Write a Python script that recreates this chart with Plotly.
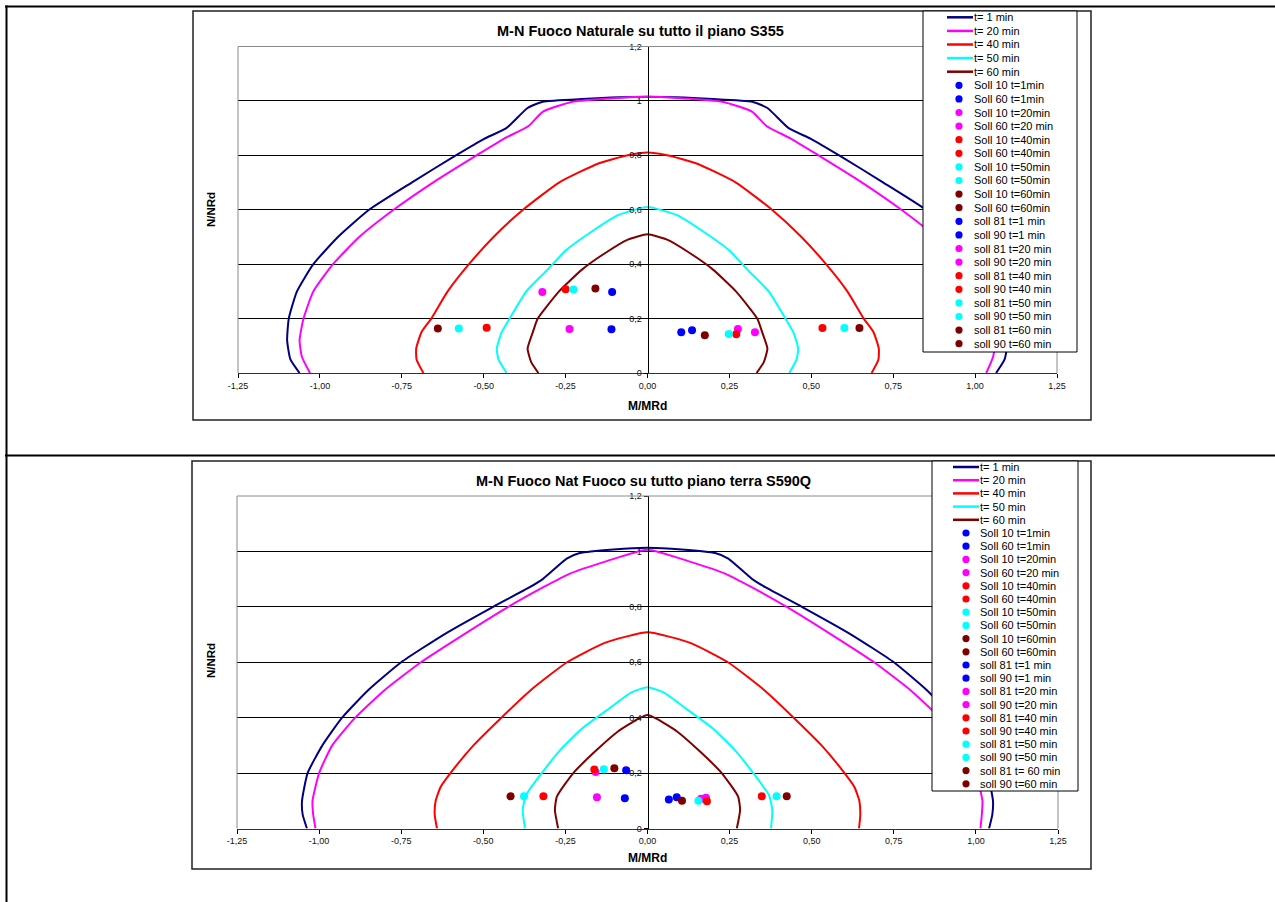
import plotly.graph_objects as go

# ---------------- data ----------------
X_TICKS = [-1.25, -1.0, -0.75, -0.5, -0.25, 0.0, 0.25, 0.5, 0.75, 1.0, 1.25]
X_TICK_LABELS = ["-1,25", "-1,00", "-0,75", "-0,50", "-0,25", "0,00", "0,25", "0,50", "0,75", "1,00", "1,25"]
Y_TICKS = [0, 0.2, 0.4, 0.6, 0.8, 1.0, 1.2]
Y_TICK_LABELS = ["0", "0,2", "0,4", "0,6", "0,8", "1", "1,2"]

CURVE_NAMES = ["t= 1 min", "t= 20 min", "t= 40 min", "t= 50 min", "t= 60 min"]
CURVE_COLORS = ["#000080", "#FF00FF", "#FF0000", "#00FFFF", "#800000"]

# ---- chart 1 : S355 ----
A_T1_M = [-1.062, -1.090, -1.100, -1.095, -1.070, -1.020, -0.945, -0.850, -0.720, -0.585, -0.500, -0.431, -0.366, -0.320, -0.200, 0.000,
          0.200, 0.320, 0.366, 0.431, 0.500, 0.585, 0.720, 0.850, 0.945, 1.020, 1.070, 1.095, 1.100, 1.090, 1.064]
A_T1_N = [0.0, 0.05, 0.12, 0.20, 0.30, 0.40, 0.50, 0.60, 0.70, 0.80, 0.86, 0.90, 0.974, 0.997, 1.007, 1.015,
          1.007, 0.997, 0.974, 0.90, 0.86, 0.80, 0.70, 0.60, 0.50, 0.40, 0.30, 0.20, 0.12, 0.05, 0.0]
A_T20_M = [-1.030, -1.055, -1.062, -1.050, -1.020, -0.960, -0.880, -0.775, -0.655, -0.522, -0.440, -0.363, -0.320, -0.229, -0.100, 0.000,
           0.100, 0.229, 0.320, 0.363, 0.440, 0.522, 0.655, 0.775, 0.880, 0.960, 1.020, 1.050, 1.062, 1.055, 1.034]
A_T20_N = [0.0, 0.06, 0.12, 0.20, 0.30, 0.40, 0.50, 0.60, 0.70, 0.80, 0.86, 0.908, 0.960, 0.997, 1.010, 1.015,
           1.010, 0.997, 0.960, 0.908, 0.86, 0.80, 0.70, 0.60, 0.50, 0.40, 0.30, 0.20, 0.12, 0.06, 0.0]
A_T40_M = [-0.684, -0.705, -0.706, -0.690, -0.660, -0.610, -0.545, -0.470, -0.380, -0.270, -0.150, -0.060, 0.000,
           0.060, 0.150, 0.270, 0.380, 0.470, 0.545, 0.610, 0.660, 0.690, 0.706, 0.705, 0.684]
A_T40_N = [0.0, 0.05, 0.09, 0.15, 0.20, 0.30, 0.40, 0.50, 0.60, 0.70, 0.77, 0.80, 0.81,
           0.80, 0.77, 0.70, 0.60, 0.50, 0.40, 0.30, 0.20, 0.15, 0.09, 0.05, 0.0]
A_T50_M = [-0.430, -0.455, -0.460, -0.445, -0.421, -0.370, -0.305, -0.250, -0.170, -0.090, 0.000,
           0.090, 0.170, 0.250, 0.305, 0.370, 0.421, 0.445, 0.460, 0.455, 0.433]
A_T50_N = [0.0, 0.05, 0.09, 0.15, 0.20, 0.30, 0.38, 0.45, 0.52, 0.58, 0.61,
           0.58, 0.52, 0.45, 0.38, 0.30, 0.20, 0.15, 0.09, 0.05, 0.0]
A_T60_M = [-0.333, -0.355, -0.366, -0.350, -0.335, -0.270, -0.200, -0.130, -0.060, 0.000,
           0.060, 0.130, 0.200, 0.270, 0.335, 0.350, 0.366, 0.355, 0.333]
A_T60_N = [0.0, 0.04, 0.09, 0.15, 0.20, 0.30, 0.38, 0.44, 0.49, 0.51,
           0.49, 0.44, 0.38, 0.30, 0.20, 0.15, 0.09, 0.04, 0.0]

# ---- chart 2 : S590Q ----
B_T1_M = [-1.037, -1.050, -1.052, -1.035, -0.990, -0.930, -0.850, -0.750, -0.620, -0.470, -0.360, -0.317, -0.246, -0.206, -0.104, 0.000,
          0.104, 0.206, 0.246, 0.317, 0.360, 0.470, 0.620, 0.750, 0.850, 0.930, 0.990, 1.035, 1.052, 1.050, 1.040]
B_T1_N = [0.0, 0.05, 0.10, 0.20, 0.30, 0.40, 0.50, 0.60, 0.70, 0.80, 0.87, 0.902, 0.974, 0.994, 1.007, 1.013,
          1.007, 0.994, 0.974, 0.902, 0.87, 0.80, 0.70, 0.60, 0.50, 0.40, 0.30, 0.20, 0.10, 0.05, 0.0]
B_T20_M = [-1.011, -1.018, -1.020, -1.000, -0.960, -0.890, -0.800, -0.690, -0.560, -0.424, -0.317, -0.236, -0.124, 0.000,
           0.124, 0.236, 0.317, 0.424, 0.560, 0.690, 0.800, 0.890, 0.960, 1.000, 1.020, 1.018, 1.014]
B_T20_N = [0.0, 0.05, 0.10, 0.20, 0.30, 0.40, 0.50, 0.60, 0.70, 0.80, 0.871, 0.92, 0.965, 1.006,
           0.965, 0.92, 0.871, 0.80, 0.70, 0.60, 0.50, 0.40, 0.30, 0.20, 0.10, 0.05, 0.0]
B_T40_M = [-0.641, -0.648, -0.645, -0.630, -0.600, -0.530, -0.445, -0.355, -0.245, -0.130, 0.000,
           0.130, 0.245, 0.355, 0.445, 0.530, 0.600, 0.630, 0.645, 0.648, 0.644]
B_T40_N = [0.0, 0.05, 0.10, 0.15, 0.20, 0.30, 0.40, 0.50, 0.60, 0.67, 0.708,
           0.67, 0.60, 0.50, 0.40, 0.30, 0.20, 0.15, 0.10, 0.05, 0.0]
B_T50_M = [-0.373, -0.380, -0.370, -0.322, -0.266, -0.200, -0.120, -0.050, 0.000,
           0.050, 0.120, 0.200, 0.266, 0.322, 0.370, 0.380, 0.376]
B_T50_N = [0.0, 0.067, 0.12, 0.20, 0.283, 0.36, 0.43, 0.49, 0.51,
           0.49, 0.43, 0.36, 0.283, 0.20, 0.12, 0.067, 0.0]
B_T60_M = [-0.272, -0.282, -0.276, -0.226, -0.155, -0.090, -0.030, 0.000,
           0.030, 0.090, 0.155, 0.226, 0.276, 0.282, 0.272]
B_T60_N = [0.0, 0.067, 0.115, 0.20, 0.283, 0.35, 0.395, 0.41,
           0.395, 0.35, 0.283, 0.20, 0.115, 0.067, 0.0]

# point series (one point each)
POINT_NAMES_A = ["Soll 10 t=1min", "Soll 60 t=1min", "Soll 10 t=20min", "Soll 60 t=20 min", "Soll 10 t=40min",
                 "Soll 60 t=40min", "Soll 10 t=50min", "Soll 60 t=50min", "Soll 10 t=60min", "Soll 60 t=60min",
                 "soll 81 t=1 min", "soll 90 t=1 min", "soll 81 t=20 min", "soll 90 t=20 min", "soll 81 t=40 min",
                 "soll 90 t=40 min", "soll 81 t=50 min", "soll 90 t=50 min", "soll 81 t=60 min", "soll 90 t=60 min"]
POINT_NAMES_B = ["Soll 10 t=1min", "Soll 60 t=1min", "Soll 10 t=20min", "Soll 60 t=20 min", "Soll 10 t=40min",
                 "Soll 60 t=40min", "Soll 10 t=50min", "Soll 60 t=50min", "Soll 10 t=60min", "Soll 60 t=60min",
                 "soll 81 t=1 min", "soll 90 t=1 min", "soll 81 t=20 min", "soll 90 t=20 min", "soll 81 t=40 min",
                 "soll 90 t=40 min", "soll 81 t=50 min", "soll 90 t=50 min", "soll 81 t= 60 min", "soll 90 t=60 min"]
POINT_COLORS = ["#0000FF", "#0000FF", "#FF00FF", "#FF00FF", "#FF0000", "#FF0000", "#00FFFF", "#00FFFF", "#800000", "#800000",
                "#0000FF", "#0000FF", "#FF00FF", "#FF00FF", "#FF0000", "#FF0000", "#00FFFF", "#00FFFF", "#800000", "#800000"]
A_PTS_M = [-0.108, -0.110, -0.321, -0.238, -0.250, -0.491, -0.226, -0.576, -0.159, -0.640,
           0.103, 0.136, 0.276, 0.328, 0.271, 0.534, 0.248, 0.601, 0.175, 0.647]
A_PTS_N = [0.298, 0.161, 0.298, 0.162, 0.308, 0.166, 0.307, 0.164, 0.311, 0.164,
           0.150, 0.157, 0.162, 0.150, 0.142, 0.165, 0.143, 0.165, 0.139, 0.165]
B_PTS_M = [-0.065, -0.069, -0.158, -0.154, -0.162, -0.317, -0.133, -0.376, -0.101, -0.417,
           0.065, 0.089, 0.163, 0.178, 0.181, 0.348, 0.155, 0.393, 0.105, 0.424]
B_PTS_N = [0.210, 0.109, 0.204, 0.113, 0.213, 0.116, 0.214, 0.116, 0.217, 0.116,
           0.105, 0.113, 0.107, 0.111, 0.098, 0.116, 0.100, 0.116, 0.100, 0.116]

TITLE_A = "M-N Fuoco Naturale su tutto il piano S355"
TITLE_B = "M-N Fuoco Nat Fuoco su tutto piano terra S590Q"
X_TITLE = "M/MRd"
Y_TITLE = "N/NRd"

# ---------------- layout helpers ----------------
W, H = 1275, 902
FONT = "Arial, 'Liberation Sans', sans-serif"


def PX(px):
    return px / W


def PY(py):
    return 1 - py / H


fig = go.Figure()

charts = [
    dict(xa="x", ya="y",
         curves=[(A_T1_M, A_T1_N), (A_T20_M, A_T20_N), (A_T40_M, A_T40_N), (A_T50_M, A_T50_N), (A_T60_M, A_T60_N)],
         pts=(A_PTS_M, A_PTS_N), names=POINT_NAMES_A),
    dict(xa="x2", ya="y2",
         curves=[(B_T1_M, B_T1_N), (B_T20_M, B_T20_N), (B_T40_M, B_T40_N), (B_T50_M, B_T50_N), (B_T60_M, B_T60_N)],
         pts=(B_PTS_M, B_PTS_N), names=POINT_NAMES_B),
]

for ch in charts:
    for (mx, ny), nm, col in zip(ch["curves"], CURVE_NAMES, CURVE_COLORS):
        fig.add_trace(go.Scatter(x=mx, y=ny, mode="lines", name=nm,
                                 line=dict(color=col, width=2, shape="spline", smoothing=0.5),
                                 xaxis=ch["xa"], yaxis=ch["ya"], showlegend=False))
    pm, pn = ch["pts"]
    for i, nm in enumerate(ch["names"]):
        fig.add_trace(go.Scatter(x=[pm[i]], y=[pn[i]], mode="markers", name=nm,
                                 marker=dict(color=POINT_COLORS[i], size=8, line=dict(width=0)),
                                 xaxis=ch["xa"], yaxis=ch["ya"], showlegend=False))

# geometry (pixels)
geo = [
    dict(plot=(238, 46.5, 1057, 373), frame=(193, 11, 1091, 420), legend=(923, 11, 1077, 352),
         leg_y0=17.3, leg_dy=13.6, line_x=(947, 973), mark_x=959, text_x=972,
         title=TITLE_A, title_xy=(641, 31), xt_y=406, yt_xy=(211, 210)),
    dict(plot=(237, 496, 1058, 828.5), frame=(192, 461, 1091, 869), legend=(932, 461, 1078, 791),
         leg_y0=467, leg_dy=13.2, line_x=(953, 979), mark_x=966, text_x=978,
         title=TITLE_B, title_xy=(643, 481), xt_y=858, yt_xy=(211, 661)),
]

axis_font = dict(family=FONT, size=9, color="#111")
layout_axes = {}
for k, g in enumerate(geo):
    x0, y0, x1, y1 = g["plot"]
    sfx = "" if k == 0 else "2"
    layout_axes["xaxis" + sfx] = dict(domain=[PX(x0), PX(x1)], range=[-1.25, 1.25], anchor="y" + sfx,
                                      tickvals=X_TICKS, ticktext=X_TICK_LABELS, ticks="outside", ticklen=4,
                                      tickcolor="#000", showline=True, linecolor="#333", linewidth=1,
                                      showgrid=False, zeroline=False, tickfont=axis_font, automargin=False,
                                      fixedrange=True)
    layout_axes["yaxis" + sfx] = dict(domain=[PY(y1), PY(y0)], range=[0, 1.2], anchor="free",
                                      position=PX((x0 + x1) / 2), tickvals=Y_TICKS, ticktext=Y_TICK_LABELS,
                                      ticks="outside", ticklen=4, tickcolor="#000", showline=True,
                                      linecolor="#000", linewidth=1, showgrid=True, gridcolor="#000",
                                      gridwidth=1, zeroline=False, tickfont=axis_font, automargin=False,
                                      fixedrange=True)

shapes = []
annotations = []

# outer table lines
shapes.append(dict(type="line", xref="paper", yref="paper", x0=PX(5), x1=PX(1275), y0=PY(6.5), y1=PY(6.5),
                   line=dict(color="#000", width=2)))
shapes.append(dict(type="line", xref="paper", yref="paper", x0=PX(6.5), x1=PX(6.5), y0=PY(5.5), y1=PY(902),
                   line=dict(color="#000", width=2)))
shapes.append(dict(type="line", xref="paper", yref="paper", x0=PX(5), x1=PX(1275), y0=PY(455.5), y1=PY(455.5),
                   line=dict(color="#000", width=2)))

for k, g in enumerate(geo):
    x0, y0, x1, y1 = g["plot"]
    # plot area border (gray) left, top, right
    for (a, b, c, d) in [(x0, y0, x0, y1), (x0, y0, x1, y0), (x1, y0, x1, y1)]:
        shapes.append(dict(type="line", xref="paper", yref="paper", x0=PX(a), x1=PX(c), y0=PY(b), y1=PY(d),
                           line=dict(color="#8a8a8a", width=1), layer="above"))
    # chart frame
    fx0, fy0, fx1, fy1 = g["frame"]
    shapes.append(dict(type="rect", xref="paper", yref="paper", x0=PX(fx0), x1=PX(fx1), y0=PY(fy1), y1=PY(fy0),
                       line=dict(color="#222", width=1.5), layer="above"))
    # legend box
    lx0, ly0, lx1, ly1 = g["legend"]
    shapes.append(dict(type="rect", xref="paper", yref="paper", x0=PX(lx0), x1=PX(lx1), y0=PY(ly1), y1=PY(ly0),
                       line=dict(color="#000", width=1), fillcolor="#fff", layer="above"))
    # legend entries from the chart's traces
    entries = [(nm, col, "line") for nm, col in zip(CURVE_NAMES, CURVE_COLORS)] + \
              [(nm, col, "marker") for nm, col in zip(charts[k]["names"], POINT_COLORS)]
    for i, (nm, col, kind) in enumerate(entries):
        yy = g["leg_y0"] + i * g["leg_dy"]
        if kind == "line":
            shapes.append(dict(type="line", xref="paper", yref="paper", x0=PX(g["line_x"][0]), x1=PX(g["line_x"][1]),
                               y0=PY(yy), y1=PY(yy), line=dict(color=col, width=2.5), layer="above"))
        else:
            r = 3.6
            shapes.append(dict(type="circle", xref="paper", yref="paper", x0=PX(g["mark_x"] - r),
                               x1=PX(g["mark_x"] + r), y0=PY(yy + r), y1=PY(yy - r),
                               fillcolor=col, line=dict(width=0), layer="above"))
        annotations.append(dict(xref="paper", yref="paper", x=PX(g["text_x"]), y=PY(yy), text=nm,
                                showarrow=False, xanchor="left", yanchor="middle",
                                font=dict(family=FONT, size=11, color="#000")))
    # titles
    tx, ty = g["title_xy"]
    annotations.append(dict(xref="paper", yref="paper", x=PX(tx), y=PY(ty), text=g["title"], showarrow=False,
                            xanchor="center", yanchor="middle",
                            font=dict(family=FONT, size=14.5, color="#000", weight="bold")))
    annotations.append(dict(xref="paper", yref="paper", x=PX((x0 + x1) / 2), y=PY(g["xt_y"]), text=X_TITLE,
                            showarrow=False, xanchor="center", yanchor="middle",
                            font=dict(family=FONT, size=12, color="#000", weight="bold")))
    yx, yy2 = g["yt_xy"]
    annotations.append(dict(xref="paper", yref="paper", x=PX(yx), y=PY(yy2), text=Y_TITLE, textangle=-90,
                            showarrow=False, xanchor="center", yanchor="middle",
                            font=dict(family=FONT, size=11.5, color="#000", weight="bold")))

fig.update_layout(width=W, height=H, margin=dict(l=0, r=0, t=0, b=0), paper_bgcolor="#fff",
                  plot_bgcolor="#fff", showlegend=False, shapes=shapes, annotations=annotations,
                  **layout_axes)

fig.write_html("out.html", config={"displayModeBar": False, "staticPlot": True},
               post_script="document.body.style.margin='0';document.body.style.overflow='hidden';")
